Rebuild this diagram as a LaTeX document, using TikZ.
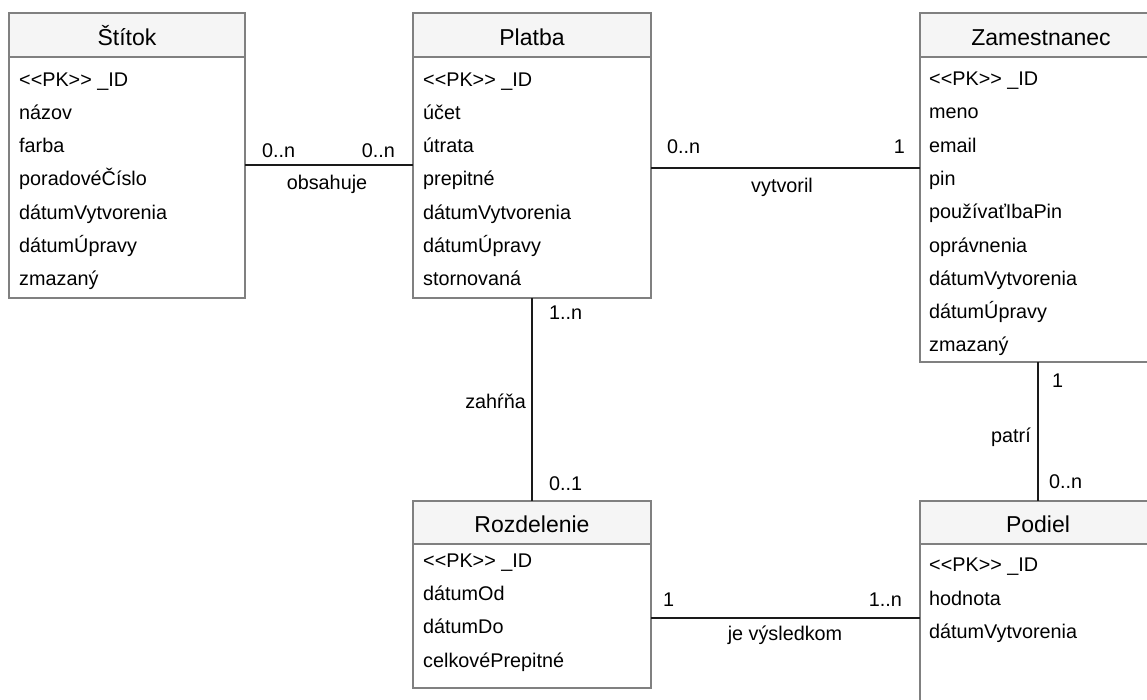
\documentclass[tikz,border=0pt]{standalone}
\usepackage{fontspec}
\newfontfamily\uifont{Liberation Sans}
\setmainfont{Liberation Sans}
\definecolor{bordergray}{HTML}{808080}
\definecolor{headfill}{HTML}{F5F5F5}
\definecolor{linecol}{HTML}{1A1A1A}
\newcommand\pkmark{<\kern0pt<PK>\kern0pt> \_ID}
\begin{document}
\begin{tikzpicture}[x=1pt,y=-1pt,
  entbox/.style={draw=bordergray, line width=1.4pt, fill=white, anchor=north west, inner sep=0pt, outer sep=0pt},
  enthead/.style={draw=bordergray, line width=1.4pt, fill=headfill, anchor=north west, inner sep=0pt, outer sep=0pt},
  headtxt/.style={anchor=base, inner sep=0pt, font=\uifont\fontsize{23}{27}\selectfont},
  attr/.style={anchor=base west, inner sep=0pt, font=\uifont\fontsize{19.8}{24}\selectfont},
  lbl/.style={inner sep=0pt, font=\uifont\fontsize{19.8}{24}\selectfont},
  rel/.style={draw=linecol, line width=1.6pt}]
\useasboundingbox (0,0) rectangle (1147,699);

% ---------- Štítok ----------
\node[entbox, minimum width=236pt, minimum height=285pt] (stitok) at (9,13) {};
\node[enthead, minimum width=236pt, minimum height=44pt] (stitokH) at (9,13) {};
\node[headtxt] (stitokT) at (127,45.5) {Štítok};
\node[attr] (s1) at (19,86) {\pkmark};
\node[attr] (s2) at (19,119.3) {názov};
\node[attr] (s3) at (19,152.6) {farba};
\node[attr] (s4) at (19,185.9) {poradovéČíslo};
\node[attr] (s5) at (19,219.2) {dátumVytvorenia};
\node[attr] (s6) at (19,252.5) {dátumÚpravy};
\node[attr] (s7) at (19,285.8) {zmazaný};

% ---------- Platba ----------
\node[entbox, minimum width=238pt, minimum height=285pt] (platba) at (413,13) {};
\node[enthead, minimum width=238pt, minimum height=44pt] (platbaH) at (413,13) {};
\node[headtxt] (platbaT) at (532,45.5) {Platba};
\node[attr] (p1) at (423,86) {\pkmark};
\node[attr] (p2) at (423,119.3) {účet};
\node[attr] (p3) at (423,152.6) {útrata};
\node[attr] (p4) at (423,185.9) {prepitné};
\node[attr] (p5) at (423,219.2) {dátumVytvorenia};
\node[attr] (p6) at (423,252.5) {dátumÚpravy};
\node[attr] (p7) at (423,285.8) {stornovaná};

% ---------- Zamestnanec ----------
\node[entbox, minimum width=240pt, minimum height=349pt] (zam) at (920,13) {};
\node[enthead, minimum width=240pt, minimum height=44pt] (zamH) at (920,13) {};
\node[headtxt] (zamT) at (1041,45.5) {Zamestnanec};
\node[attr] (z1) at (929,85.5) {\pkmark};
\node[attr] (z2) at (929,118.8) {meno};
\node[attr] (z3) at (929,152.1) {email};
\node[attr] (z4) at (929,185.4) {pin};
\node[attr] (z5) at (929,218.7) {používaťIbaPin};
\node[attr] (z6) at (929,252) {oprávnenia};
\node[attr] (z7) at (929,285.3) {dátumVytvorenia};
\node[attr] (z8) at (929,318.6) {dátumÚpravy};
\node[attr] (z9) at (929,351.9) {zmazaný};

% ---------- Rozdelenie ----------
\node[entbox, minimum width=238pt, minimum height=187pt] (rozd) at (413,501) {};
\node[enthead, minimum width=238pt, minimum height=43pt] (rozdH) at (413,501) {};
\node[headtxt] (rozdT) at (532,532) {Rozdelenie};
\node[attr] (r1) at (423,567.3) {\pkmark};
\node[attr] (r2) at (423,600.6) {dátumOd};
\node[attr] (r3) at (423,633.9) {dátumDo};
\node[attr] (r4) at (423,667.2) {celkovéPrepitné};

% ---------- Podiel ----------
\node[entbox, minimum width=240pt, minimum height=220pt] (podiel) at (920,501) {};
\node[enthead, minimum width=240pt, minimum height=43pt] (podielH) at (920,501) {};
\node[headtxt] (podielT) at (1038,532) {Podiel};
\node[attr] (d1) at (929,571.7) {\pkmark};
\node[attr] (d2) at (929,605) {hodnota};
\node[attr] (d3) at (929,638.3) {dátumVytvorenia};

% ---------- connectors ----------
\coordinate (ySP) at (0,165);
\coordinate (yPZ) at (0,168);
\coordinate (yRP) at (0,618);
\coordinate (xPR) at (532,0);
\coordinate (xZP) at (1038,0);

\draw[rel] (stitok.east |- ySP) -- (platba.west |- ySP);
\draw[rel] (platba.east |- yPZ) -- (zam.west |- yPZ);
\draw[rel] (platba.south -| xPR) -- (rozdH.north -| xPR);
\draw[rel] (zam.south -| xZP) -- (podielH.north -| xZP);
\draw[rel] (rozd.east |- yRP) -- (podiel.west |- yRP);

% ---------- labels ----------
\node[lbl, anchor=base west] (l1) at (262,157) {0..n};
\node[lbl, anchor=base east] (l2) at (395,157) {0..n};
\node[lbl, anchor=base] (l3) at (327,189) {obsahuje};

\node[lbl, anchor=base west] (l4) at (667,153) {0..n};
\node[lbl, anchor=base east] (l5) at (905,153) {1};
\node[lbl, anchor=base] (l6) at (782,192) {vytvoril};

\node[lbl, anchor=base west] (l7) at (549,319) {1..n};
\node[lbl, anchor=base east] (l8) at (526,408) {zahŕňa};
\node[lbl, anchor=base west] (l9) at (549,490) {0..1};

\node[lbl, anchor=base west] (l10) at (1052,387) {1};
\node[lbl, anchor=base east] (l11) at (1031,442) {patrí};
\node[lbl, anchor=base west] (l12) at (1049,488) {0..n};

\node[lbl, anchor=base west] (l13) at (663,606) {1};
\node[lbl, anchor=base east] (l14) at (902,606) {1..n};
\node[lbl, anchor=base] (l15) at (785,640) {je výsledkom};
\end{tikzpicture}
\end{document}
